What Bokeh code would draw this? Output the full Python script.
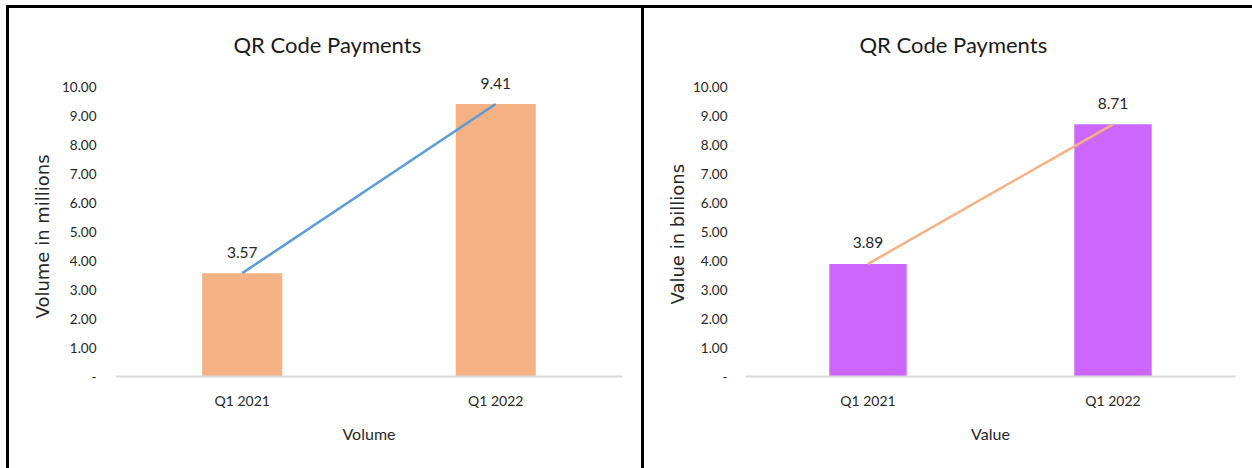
from bokeh.plotting import figure
from bokeh.layouts import row
from bokeh.models import (Range1d, FixedTicker, NumeralTickFormatter, Title, LabelSet,
                          ColumnDataSource)
from bokeh.core.properties import value
from bokeh.embed import file_html
from bokeh.resources import INLINE

categories = ["Q1 2021", "Q1 2022"]
volume_millions = [3.57, 9.41]
value_billions = [3.89, 8.71]
y_ticks = [0, 1, 2, 3, 4, 5, 6, 7, 8, 9, 10]
chart_title = "QR Code Payments"

TEXT = "#262626"
FONT = "Lato"


def panel(vals, bar_color, line_color, ylabel, xlabel, width, height,
          left, right, title_offset, tick_standoff, ylabel_offset, ylabel_standoff,
          styles, margin):
    p = figure(x_range=categories, y_range=Range1d(0, 10.5), width=width, height=height,
               output_backend="svg", toolbar_location=None,
               min_border_left=left, min_border_right=right,
               min_border_top=64, min_border_bottom=95, margin=margin)
    p.outline_line_color = None
    p.grid.grid_line_color = None
    p.background_fill_color = "white"
    p.border_fill_color = "white"

    p.title = Title(text=chart_title, align="left", offset=title_offset, standoff=29,
                    text_font=FONT, text_font_size="22px", text_font_style="normal",
                    text_color="#1a1a1a")
    p.add_layout(Title(text=ylabel, align="left", offset=ylabel_offset,
                       standoff=ylabel_standoff, text_font="DejaVu Sans",
                       text_font_size="18px", text_font_style="normal",
                       text_color=TEXT), "left")

    p.vbar(x=categories, top=vals, width=0.316, fill_color=bar_color, line_color=None)
    p.line(x=categories, y=vals, line_color=line_color, line_width=2.5)

    src = ColumnDataSource(dict(x=categories, y=vals, t=[f"{v:.2f}" for v in vals]))
    p.add_layout(LabelSet(x="x", y="y", text="t", source=src, text_align="center",
                          text_baseline="middle", y_offset=21, text_font=value(FONT),
                          text_font_size=value("15.5px"), text_color=TEXT))

    ya = p.yaxis[0]
    ya.ticker = FixedTicker(ticks=y_ticks)
    ya.formatter = NumeralTickFormatter(format="0.00")
    ya.major_label_overrides = {0: "-"}
    ya.axis_line_color = None
    ya.major_tick_line_color = None
    ya.minor_tick_line_color = None
    ya.major_label_standoff = tick_standoff
    ya.major_label_text_font = FONT
    ya.major_label_text_font_size = "13.5px"
    ya.major_label_text_color = TEXT

    xa = p.xaxis[0]
    xa.axis_line_color = "#D9D9D9"
    xa.axis_line_width = 2
    xa.major_tick_line_color = None
    xa.minor_tick_line_color = None
    xa.major_label_standoff = 9
    xa.major_label_text_font = FONT
    xa.major_label_text_font_size = "14px"
    xa.major_label_text_color = TEXT
    xa.axis_label = xlabel
    xa.axis_label_text_font = FONT
    xa.axis_label_text_font_size = "16px"
    xa.axis_label_text_font_style = "normal"
    xa.axis_label_text_color = TEXT
    xa.axis_label_standoff = 12
    p.styles = styles
    return p


p1 = panel(volume_millions, "#F4B183", "#5B9BD5", "Volume in millions", "Volume",
           638, 463, 106, 25, 118, 13, 58, 12,
           {"border-top": "3px solid black", "border-left": "3px solid black",
            "border-right": "3px solid black"}, (5, 0, 0, 6))
p2 = panel(value_billions, "#CC66FF", "#F4B183", "Value in billions", "Value",
           608, 463, 101, 17, 114, 12, 72, 4,
           {"border-top": "3px solid black"}, (5, 0, 0, 0))

layout = row(p1, p2)
open("out.html", "w").write(file_html(layout, INLINE))
